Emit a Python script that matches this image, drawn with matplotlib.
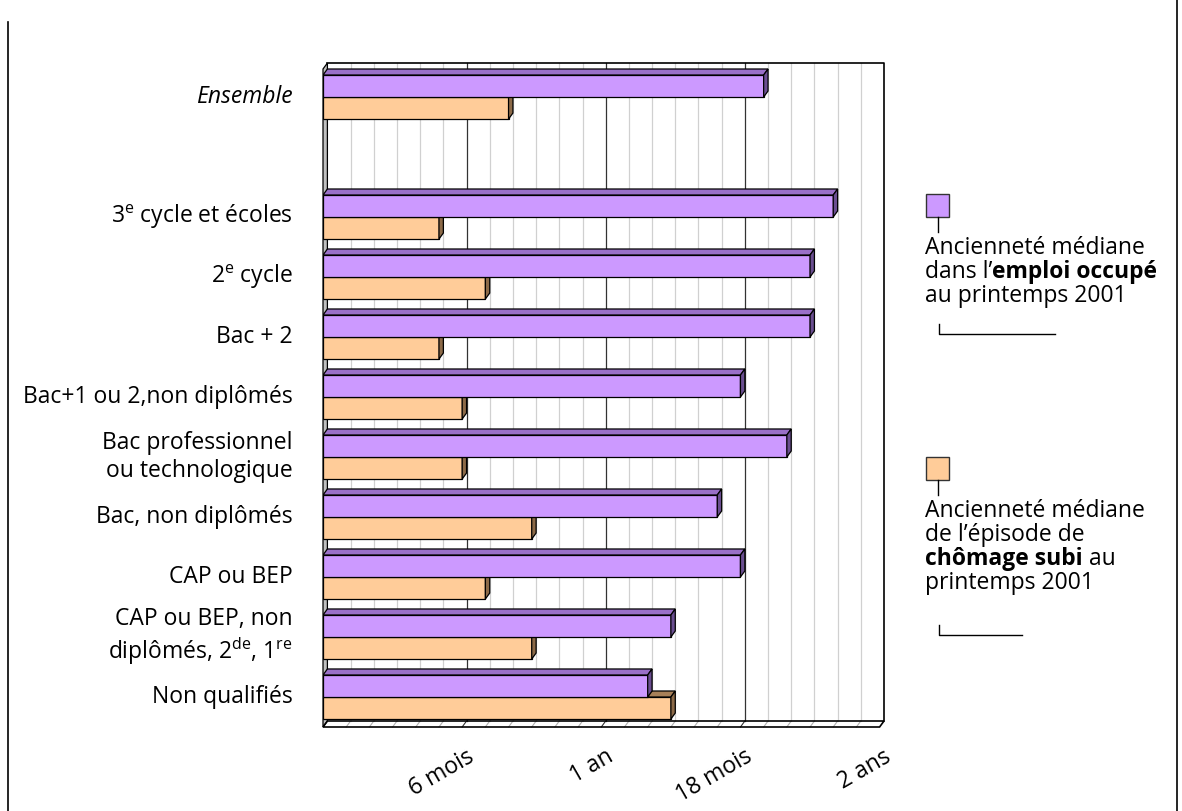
import matplotlib
matplotlib.use("Agg")
import matplotlib.pyplot as plt
from matplotlib.patches import Polygon, Rectangle
from matplotlib.lines import Line2D
from matplotlib.transforms import offset_copy

plt.rcParams["font.family"] = ["Open Sans", "DejaVu Sans"]
plt.rcParams["mathtext.fontset"] = "custom"
plt.rcParams["mathtext.rm"] = "Open Sans"
plt.rcParams["mathtext.it"] = "Open Sans:italic"

# Données (en mois)
categories = [
    "Ensemble",
    r"3$^{\rm e}$ cycle et écoles",
    r"2$^{\rm e}$ cycle",
    "Bac + 2",
    "Bac+1 ou 2,non diplômés",
    "Bac professionnel\nou technologique",
    "Bac, non diplômés",
    "CAP ou BEP",
    "CAP ou BEP, non\n" + r"diplômés, 2$^{\rm de}$, 1$^{\rm re}$",
    "Non qualifiés",
]
emploi = [19, 22, 21, 21, 18, 20, 17, 18, 15, 14]
chomage = [8, 5, 7, 5, 6, 6, 9, 7, 9, 15]
tick_months = [6, 12, 18, 24]
tick_labels = ["6 mois", "1 an", "18 mois", "2 ans"]

W, H = 1182, 811
FS = 16.5
PURPLE = ("#CC99FF", "#9A70C8", "#6A4E90")
ORANGE = ("#FFCC99", "#A88058", "#8C6A48")
DX, DY = 0.19, 0.10      # profondeur 3D (mois, rangée)
BH = 0.367               # hauteur d'une barre
YTOP, YBOT = -0.567, 10.5
XMAX = 24

fig = plt.figure(figsize=(W / 100, H / 100), dpi=100)
ax = fig.add_axes([323 / W, 1 - 727 / H, (884 - 323) / W, (727 - 63) / H])
ax.set_xlim(0, XMAX + DX)
ax.set_ylim(YBOT, YTOP)
ax.axis("off")


def px(x, y):
    return x / W, 1 - y / H


# mur du fond, mur gauche, sol
ax.add_patch(Rectangle((DX, YTOP), XMAX, YBOT - DY - YTOP, facecolor="white",
                       edgecolor="none", zorder=0, clip_on=False))
for m in range(1, XMAX):
    major = m % 6 == 0
    ax.plot([m + DX, m + DX], [YBOT - DY, YTOP], color="#333333" if major else "#D0D0D0",
            lw=0.9, zorder=1, clip_on=False)
    ax.plot([m, m + DX], [YBOT, YBOT - DY], color="#333333" if major else "#B0B0B0",
            lw=0.8, zorder=2, clip_on=False)
ax.plot([DX, XMAX + DX, XMAX + DX], [YTOP, YTOP, YBOT - DY], color="black", lw=1.2,
        zorder=1, clip_on=False)
ax.add_patch(Polygon([(0, YBOT), (DX, YBOT - DY), (DX, YTOP), (0, YTOP + DY)],
                     closed=True, facecolor="#C0C0C0", edgecolor="black", lw=0.9,
                     zorder=1, clip_on=False))
ax.add_patch(Polygon([(0, YBOT), (XMAX, YBOT), (XMAX + DX, YBOT - DY), (DX, YBOT - DY)],
                     closed=True, facecolor="none", edgecolor="black", lw=1.2,
                     zorder=2, clip_on=False))


def bar3d(top, value, colors, z):
    front, upper, side = colors
    ax.barh(top, value, height=BH, left=0, align="edge", color=front,
            edgecolor="black", lw=0.9, zorder=z)
    ax.add_patch(Polygon([(0, top), (value, top), (value + DX, top - DY), (DX, top - DY)],
                         closed=True, facecolor=upper, edgecolor="black", lw=0.9, zorder=z))
    ax.add_patch(Polygon([(value, top), (value, top + BH), (value + DX, top + BH - DY),
                          (value + DX, top - DY)],
                         closed=True, facecolor=side, edgecolor="black", lw=0.9, zorder=z))


# rangée vide entre "Ensemble" et les diplômes
slots = [0] + list(range(2, len(categories) + 1))
lab_tr = offset_copy(ax.transData, fig, x=-30, y=0, units="dots")
for s, lab, e, c in zip(slots, categories, emploi, chomage):
    bar3d(s, c, ORANGE, 3)
    bar3d(s - BH, e, PURPLE, 4)
    ax.text(0, s, lab, transform=lab_tr, ha="right", va="center", multialignment="right",
            fontsize=FS, style="italic" if lab == "Ensemble" else "normal",
            linespacing=1.2)

for m, lab in zip(tick_months, tick_labels):
    ax.annotate(lab, xy=(m, YBOT), xytext=(10, -28), textcoords="offset pixels",
                rotation=30, ha="right", va="center", rotation_mode="anchor", fontsize=FS,
                annotation_clip=False)

# cadre
fig.add_artist(Line2D([8 / W, 8 / W], [0, 1 - 22 / H], transform=fig.transFigure,
                      color="black", lw=1.2))
fig.add_artist(Line2D([1177 / W, 1177 / W], [0, 1], transform=fig.transFigure,
                      color="black", lw=1.2))

# légende
renderer = fig.canvas.get_renderer()


def rich_line(x, y, parts):
    for txt, bold in parts:
        t = fig.text(*px(x, y), txt, fontsize=FS, fontweight="bold" if bold else "normal",
                     ha="left", va="center")
        x += t.get_window_extent(renderer).width


def legend_item(y_box, color, lines, y_bracket, x_bracket):
    fig.add_artist(Rectangle(px(926, y_box + 24), 23 / W, 23 / H, transform=fig.transFigure,
                             facecolor=color, edgecolor="#333333", lw=1))
    fig.add_artist(Line2D([937.5 / W] * 2, [1 - (y_box + 24) / H, 1 - (y_box + 39) / H],
                          transform=fig.transFigure, color="black", lw=1))
    for i, parts in enumerate(lines):
        rich_line(925, y_box + 55 + 24 * i, parts)
    fig.add_artist(Line2D([939 / W, 939 / W, x_bracket / W],
                          [1 - (y_bracket - 10) / H, 1 - y_bracket / H, 1 - y_bracket / H],
                          transform=fig.transFigure, color="black", lw=1))


legend_item(193, PURPLE[0],
            [[("Ancienneté médiane", False)],
             [("dans l’", False), ("emploi occupé", True)],
             [("au printemps 2001", False)]], 334, 1055)

legend_item(456, ORANGE[0],
            [[("Ancienneté médiane", False)],
             [("de l’épisode de", False)],
             [("chômage subi", True), (" au", False)],
             [("printemps 2001", False)]], 635, 1022)

fig.savefig("out.png", dpi=100)
